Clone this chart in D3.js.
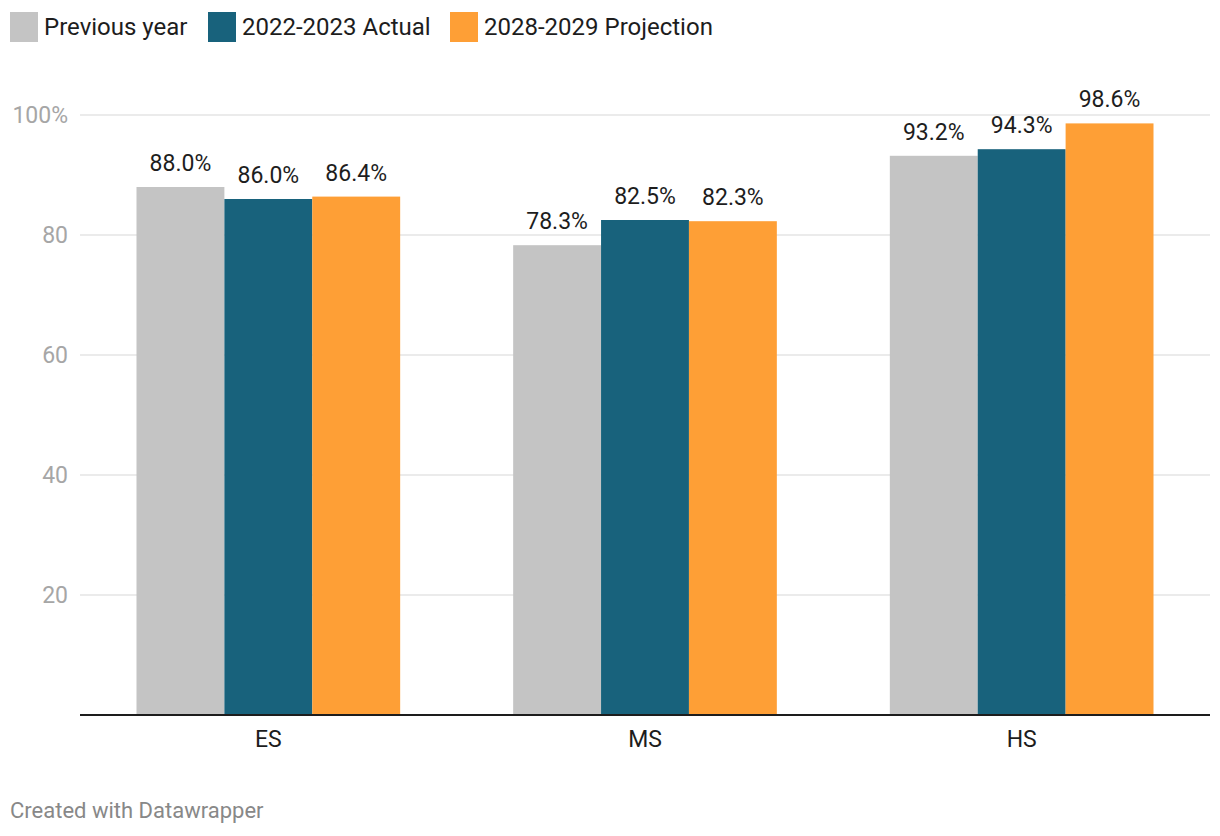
<!DOCTYPE html>
<html>
<head>
<meta charset="utf-8">
<script src="https://cdn.jsdelivr.net/npm/d3@7"></script>
<style>
  body { margin: 0; background: #fff; font-family: Roboto, sans-serif; }
</style>
</head>
<body>
<div id="chart"></div>
<script>
var categories = ['ES', 'MS', 'HS'];
var seriesNames = ['Previous year', '2022-2023 Actual', '2028-2029 Projection'];
var previousYear = [88.0, 78.3, 93.2];
var actual = [86.0, 82.5, 94.3];
var projection = [86.4, 82.3, 98.6];
var yTicks = [20, 40, 60, 80, 100];
var colors = ['#c4c4c4', '#18627c', '#fe9f36'];

var seriesValues = [previousYear, actual, projection];

var width = 1220, height = 836;
var margin = { top: 115, right: 10, bottom: 121, left: 80 };

var svg = d3.select('#chart')
    .append('svg')
    .attr('width', width)
    .attr('height', height);

var x0 = d3.scaleBand()
    .domain(categories)
    .range([margin.left, width - margin.right])
    .paddingInner(0.3)
    .paddingOuter(0.15);

var x1 = d3.scaleBand()
    .domain(seriesNames)
    .range([0, x0.bandwidth()]);

var y = d3.scaleLinear()
    .domain([0, 100])
    .range([height - margin.bottom, margin.top]);

// gridlines + tick labels
var grid = svg.append('g');
grid.selectAll('line')
    .data(yTicks)
    .enter().append('line')
    .attr('x1', margin.left)
    .attr('x2', width - margin.right)
    .attr('y1', function (d) { return y(d); })
    .attr('y2', function (d) { return y(d); })
    .attr('stroke', '#e5e5e5')
    .attr('stroke-width', 1.5);

grid.selectAll('text')
    .data(yTicks)
    .enter().append('text')
    .attr('x', margin.left - 12)
    .attr('y', function (d) { return y(d); })
    .attr('dy', '0.35em')
    .attr('text-anchor', 'end')
    .attr('font-size', 23)
    .attr('fill', '#a6a6a6')
    .text(function (d) { return d === 100 ? d + '%' : d; });

// bars
var groups = svg.append('g')
    .selectAll('g')
    .data(categories)
    .enter().append('g')
    .attr('transform', function (d) { return 'translate(' + x0(d) + ',0)'; });

groups.selectAll('rect')
    .data(function (d, i) {
        return seriesNames.map(function (s, j) { return { s: s, v: seriesValues[j][i], j: j }; });
    })
    .enter().append('rect')
    .attr('x', function (d) { return x1(d.s); })
    .attr('width', x1.bandwidth())
    .attr('y', function (d) { return y(d.v); })
    .attr('height', function (d) { return y(0) - y(d.v); })
    .attr('fill', function (d) { return colors[d.j]; });

groups.selectAll('text')
    .data(function (d, i) {
        return seriesNames.map(function (s, j) { return { s: s, v: seriesValues[j][i], j: j }; });
    })
    .enter().append('text')
    .attr('x', function (d) { return x1(d.s) + x1.bandwidth() / 2; })
    .attr('y', function (d) { return y(d.v) - 16; })
    .attr('text-anchor', 'middle')
    .attr('font-size', 23)
    .attr('fill', '#1d1d1d')
    .text(function (d) { return d.v.toFixed(1) + '%'; });

// baseline
svg.append('line')
    .attr('x1', margin.left)
    .attr('x2', width - margin.right)
    .attr('y1', y(0))
    .attr('y2', y(0))
    .attr('stroke', '#1d1d1d')
    .attr('stroke-width', 2);

// category labels
svg.append('g')
    .selectAll('text')
    .data(categories)
    .enter().append('text')
    .attr('x', function (d) { return x0(d) + x0.bandwidth() / 2; })
    .attr('y', y(0) + 32)
    .attr('text-anchor', 'middle')
    .attr('font-size', 23)
    .attr('fill', '#1d1d1d')
    .text(function (d) { return d; });

// legend
var legendX = [10, 208, 450];
var legend = svg.append('g')
    .selectAll('g')
    .data(seriesNames)
    .enter().append('g')
    .attr('transform', function (d, i) { return 'translate(' + legendX[i] + ',12)'; });

legend.append('rect')
    .attr('width', 28)
    .attr('height', 30)
    .attr('fill', function (d, i) { return colors[i]; });

legend.append('text')
    .attr('x', 34)
    .attr('y', 23)
    .attr('font-size', 24)
    .attr('fill', '#1d1d1d')
    .text(function (d) { return d; });

// footer
svg.append('text')
    .attr('x', 10)
    .attr('y', 818)
    .attr('font-size', 22)
    .attr('fill', '#888')
    .text('Created with Datawrapper');
</script>
</body>
</html>
